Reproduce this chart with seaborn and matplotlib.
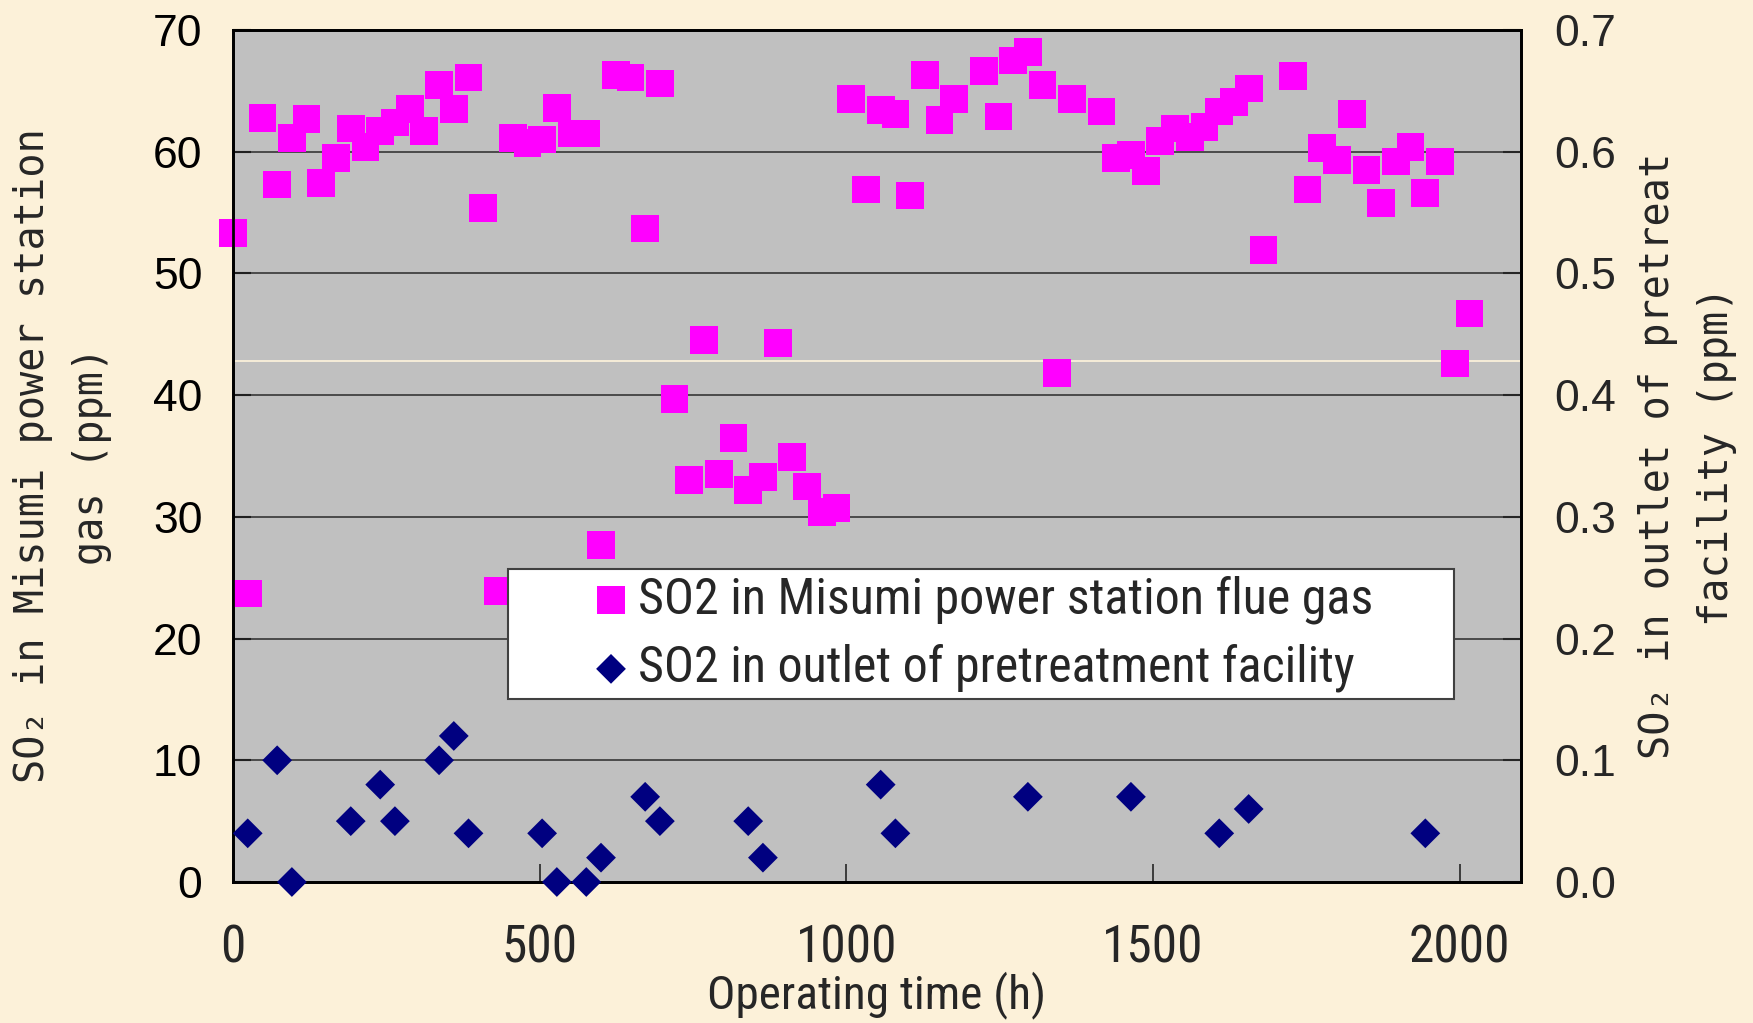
import matplotlib
matplotlib.use("Agg")
import matplotlib.pyplot as plt
import seaborn as sns
from matplotlib import font_manager
from matplotlib.patches import Rectangle

# ---------------- data ----------------
hours_flue = [0, 24, 48, 72, 96, 120, 144, 168, 192, 216, 240, 264, 288, 312, 336, 360,
              384, 408, 432, 456, 480, 504, 528, 552, 576, 600, 624, 648, 672, 696, 720,
              744, 768, 792, 816, 840, 864, 888, 912, 936, 960, 984, 1008, 1032, 1056,
              1080, 1104, 1128, 1152, 1176, 1224, 1248, 1272, 1296, 1320, 1344, 1368,
              1416, 1440, 1464, 1488, 1512, 1536, 1560, 1584, 1608, 1632, 1656, 1680,
              1728, 1752, 1776, 1800, 1824, 1848, 1872, 1896, 1920, 1944, 1968, 1992, 2016]
so2_flue = [53.3, 23.7, 62.8, 57.3, 61.1, 62.7, 57.4, 59.5, 61.9, 60.4, 61.7, 62.4, 63.5,
            61.7, 65.5, 63.5, 66.1, 55.4, 23.9, 61.1, 60.7, 61.0, 63.6, 61.5, 61.5, 27.7,
            66.3, 66.1, 53.7, 65.6, 39.7, 33.0, 44.5, 33.5, 36.5, 32.2, 33.3, 44.3, 34.9,
            32.5, 30.4, 30.7, 64.3, 56.9, 63.4, 63.1, 56.4, 66.3, 62.6, 64.3, 66.6, 62.9,
            67.5, 68.2, 65.5, 41.8, 64.3, 63.3, 59.5, 59.7, 58.4, 60.9, 61.9, 61.2, 62.0,
            63.3, 64.1, 65.2, 51.9, 66.2, 56.9, 60.3, 59.3, 63.1, 58.5, 55.8, 59.2, 60.4,
            56.6, 59.2, 42.6, 46.7]

hours_outlet = [24, 72, 96, 192, 240, 264, 336, 360, 384, 504, 528, 576, 600, 672, 696,
                840, 864, 1056, 1080, 1296, 1464, 1608, 1656, 1944]
so2_outlet = [0.04, 0.10, 0.00, 0.05, 0.08, 0.05, 0.10, 0.12, 0.04, 0.04, 0.00, 0.00, 0.02,
              0.07, 0.05, 0.05, 0.02, 0.08, 0.04, 0.07, 0.07, 0.04, 0.06, 0.04]

x_ticks = [0, 500, 1000, 1500, 2000]
left_ticks = [0, 10, 20, 30, 40, 50, 60, 70]
right_ticks = [0.0, 0.1, 0.2, 0.3, 0.4, 0.5, 0.6, 0.7]
right_tick_labels = ["0.0", "0.1", "0.2", "0.3", "0.4", "0.5", "0.6", "0.7"]
ref_line_value = 42.8

label_flue = "SO2 in Misumi power station flue gas"
label_outlet = "SO2 in outlet of pretreatment facility"
x_label = "Operating time (h)"
left_label = "SO\u2082 in Misumi power station\ngas (ppm)"
right_label = "SO\u2082 in outlet of pretreat\nfacility (ppm)"

# ---------------- fonts ----------------
avail = {f.name for f in font_manager.fontManager.ttflist}
def pick(*names):
    for n in names:
        if n in avail:
            return n
    return "DejaVu Sans"
narrow = pick("Liberation Sans Narrow", "Roboto Condensed", "Open Sans Condensed", "DejaVu Sans")
wide = pick("Liberation Sans", "Arial", "DejaVu Sans")
mono = pick("DejaVu Sans Mono", "Liberation Mono")
narrow_stretch = "normal" if narrow != "DejaVu Sans" else "condensed"

# ---------------- figure ----------------
sns.set_style("white")
plt.rcParams["font.family"] = [wide, "DejaVu Sans"]

BG = "#FCF1D9"
fig = plt.figure(figsize=(17.53, 10.23), dpi=100, facecolor=BG)
L, R, T, B = 233, 1521, 30, 882
W, H = 1753, 1023
ax = fig.add_axes([L / W, 1 - B / H, (R - L) / W, (B - T) / H])
ax.set_facecolor("#C0C0C0")

ax.set_xlim(0, 2100)
ax.set_ylim(0, 70)
ax.set_xticks(x_ticks)
ax.set_yticks(left_ticks)
ax.grid(False)
for v in left_ticks[1:-1]:
    ax.axhline(v, color="#2a2a2a", lw=1.1, zorder=1)
ax.axhline(ref_line_value, color="#FFF4DC", lw=1.2, zorder=1)

sns.scatterplot(x=hours_flue, y=so2_flue, ax=ax, marker="s", s=400, color="#FF00FF",
                edgecolor="none", linewidth=0, label=label_flue, clip_on=False, zorder=3)

ax2 = ax.twinx()
ax2.set_ylim(0, 0.7)
ax2.set_yticks(right_ticks)
ax2.set_yticklabels(right_tick_labels)
ax2.patch.set_visible(False)
sns.scatterplot(x=hours_outlet, y=so2_outlet, ax=ax2, marker="D", s=230, color="#000080",
                edgecolor="none", linewidth=0, label=label_outlet, clip_on=False, zorder=3)

h1, l1 = ax.get_legend_handles_labels()
h2, l2 = ax2.get_legend_handles_labels()
for a in (ax, ax2):
    if a.get_legend() is not None:
        a.get_legend().remove()

for a in (ax, ax2):
    for s in a.spines.values():
        s.set_color("black")
        s.set_linewidth(2)
        s.set_visible(True)

ax.tick_params(axis="y", direction="in", length=13, width=1.5, labelsize=32, pad=22,
               colors="black", left=True, right=False)
ax.tick_params(axis="x", direction="in", length=13, width=1.2, pad=30, bottom=True)
for t in ax.get_xticklabels():
    t.set_fontfamily([narrow, "DejaVu Sans"])
    t.set_fontstretch(narrow_stretch)
    t.set_fontsize(37)
ax2.tick_params(axis="y", direction="in", length=13, width=1.5, labelsize=32, pad=24,
                right=True, left=False)

ax.set_xlabel(x_label, fontsize=34, family=[narrow, "DejaVu Sans"], fontstretch=narrow_stretch)
ax.xaxis.set_label_coords(0.5, -0.104)
ax.set_ylabel(left_label, fontsize=29, family=[mono, "DejaVu Sans"], linespacing=1.6)
ax.yaxis.set_label_coords(-0.094, 0.5)
ax2.set_ylabel(right_label, fontsize=29, family=[mono, "DejaVu Sans"], linespacing=1.6,
               rotation=90, va="top")
ax2.yaxis.set_label_coords(1.091, 0.5)

# legend box
ax2.add_patch(Rectangle((508 / W, 1 - 699 / H), 946 / W, 130 / H, transform=fig.transFigure,
                        facecolor="white", edgecolor="#404040", lw=1.5, zorder=4,
                        clip_on=False))
leg = ax2.legend(h1 + h2, l1 + l2, loc="center left",
                 bbox_to_anchor=(596 / W, 1 - 634 / H), bbox_transform=fig.transFigure,
                 frameon=False, borderpad=0, borderaxespad=0, handlelength=0.6,
                 handletextpad=0.25, labelspacing=0.4,
                 prop={"family": [narrow, "DejaVu Sans"], "size": 36, "stretch": narrow_stretch})
leg.set_zorder(6)

fig.savefig("out.png", dpi=100, facecolor=BG)
